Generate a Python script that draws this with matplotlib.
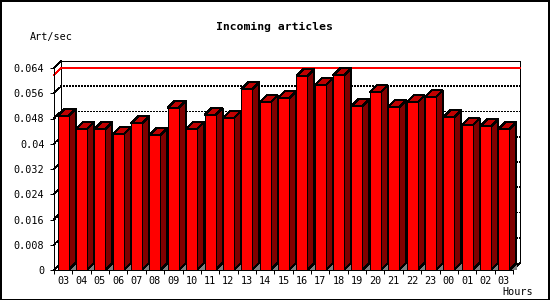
import matplotlib
matplotlib.use("Agg")
import matplotlib.pyplot as plt
from matplotlib.patches import Polygon, Rectangle
from matplotlib.transforms import Affine2D
import numpy as np

# ---- data ----
hours = ['03', '04', '05', '06', '07', '08', '09', '10', '11', '12', '13', '14', '15',
         '16', '17', '18', '19', '20', '21', '22', '23', '00', '01', '02', '03']
values = [0.0488, 0.0447, 0.0447, 0.0431, 0.0465, 0.0428, 0.0514, 0.0447, 0.0491,
          0.0481, 0.0573, 0.0531, 0.0544, 0.0614, 0.0585, 0.0617, 0.0519, 0.0563,
          0.0516, 0.0531, 0.0547, 0.0484, 0.0458, 0.0455, 0.0446]
yticks = [0, 0.008, 0.016, 0.024, 0.032, 0.04, 0.048, 0.056, 0.064]
ytick_labels = ['0', '0.008', '0.016', '0.024', '0.032', '0.04', '0.048', '0.056', '0.064']
title = 'Incoming articles'
ylabel = 'Art/sec'
xlabel = 'Hours'

# ---- style ----
W, H, DPI = 550, 300, 100
PX = 72.0 / DPI          # one pixel in points
DEPTH = 7                # 3D depth in pixels
FRONT = '#ff0000'
TOP = '#c00000'
SIDE = '#800000'
SHADOW = '#808080'
MONO = 'DejaVu Sans Mono'

fig = plt.figure(figsize=(W / DPI, H / DPI), dpi=DPI, facecolor='white')
ax = fig.add_axes([54 / W, 30 / H, 459 / W, 202 / H])
ax.set_facecolor('none')
n = len(values)
ax.set_xlim(0, n)
ax.set_ylim(0, 0.064)

# depth offset in data units via the axes transform
inv = ax.transData.inverted()
o = ax.transData.transform((0, 0))
dx, dy = inv.transform(o + np.array([DEPTH, DEPTH])) - inv.transform(o)
back = ax.transData + Affine2D().translate(DEPTH, DEPTH)

lw = PX
# back panel
ax.add_patch(Rectangle((0, 0), n, 0.064, transform=back, facecolor='white',
                       edgecolor='black', lw=lw, zorder=0.5, clip_on=False,
                       antialiased=False))
# frame diagonals
for (x0, y0) in [(0, 0.064), (n, 0), (0, 0)]:
    ax.plot([x0, x0 + dx], [y0, y0 + dy], color='black', lw=lw, zorder=0.6,
            clip_on=False, antialiased=False)

# grid lines on back wall
for v in yticks[1:-1]:
    ax.plot([0, dx, n + dx], [v, v + dy, v + dy], color='black', lw=lw,
            linestyle=(0, (2 * PX / lw, 2 * PX / lw)), zorder=0.7, clip_on=False,
            antialiased=False)

# max line
vmax = max(values)
ax.plot([0, dx, n + dx], [vmax, vmax + dy, vmax + dy], color='red', lw=lw,
        zorder=0.8, clip_on=False, antialiased=False)

# bars
width = 0.6
xc = np.arange(n) + 0.5
for i, v in enumerate(values):
    l = xc[i] - width / 2
    r = xc[i] + width / 2
    ax.add_patch(Polygon([(r, 0), (r + dx, dy), (r + dx, 0)], closed=True,
                         facecolor=SHADOW, edgecolor='none', zorder=2,
                         clip_on=False, antialiased=False))
    ax.add_patch(Polygon([(r, 0), (r + dx, dy), (r + dx, v + dy), (r, v)], closed=True,
                         facecolor=SIDE, edgecolor='black', lw=lw, zorder=3,
                         clip_on=False, antialiased=False))
    ax.add_patch(Polygon([(l, v), (r, v), (r + dx, v + dy), (l + dx, v + dy)], closed=True,
                         facecolor=TOP, edgecolor='black', lw=lw, zorder=3,
                         clip_on=False, antialiased=False))
ax.bar(xc, values, width=width, color=FRONT, edgecolor='black', lw=lw, zorder=4,
       antialiased=False, clip_on=False)

# axes
for s in ['top', 'right']:
    ax.spines[s].set_visible(False)
for s in ['left', 'bottom']:
    ax.spines[s].set_linewidth(lw)
    ax.spines[s].set_zorder(5)
ax.set_yticks(yticks)
ax.set_yticklabels(ytick_labels, fontfamily=MONO, fontsize=7.3)
ax.set_xticks(np.arange(n + 1))
ax.set_xticklabels([])
ax.set_xticks(xc, minor=True)
ax.set_xticklabels(hours, minor=True, fontfamily=MONO, fontsize=7.3)
ax.tick_params(axis='y', direction='out', length=4 * PX, width=lw, pad=4)
ax.tick_params(axis='x', which='major', direction='out', length=4 * PX, width=lw)
ax.tick_params(axis='x', which='minor', length=0, pad=4)

fig.text(274 / W, 1 - 27 / H, title, ha='center', va='center', fontfamily=MONO,
         fontweight='bold', fontsize=8.2)
fig.text(30 / W, 1 - 37 / H, ylabel, ha='left', va='center', fontfamily=MONO,
         fontsize=7.3)
fig.text(533 / W, 1 - 292 / H, xlabel, ha='right', va='center', fontfamily=MONO,
         fontsize=7.3)

fig.patches.append(Rectangle((0.5 / W, 0.5 / H), (W - 1.5) / W, (H - 1.5) / H,
                             transform=fig.transFigure, fill=False, edgecolor='black',
                             lw=lw * 1.5, antialiased=False))

fig.savefig('out.png', dpi=DPI, facecolor='white')
